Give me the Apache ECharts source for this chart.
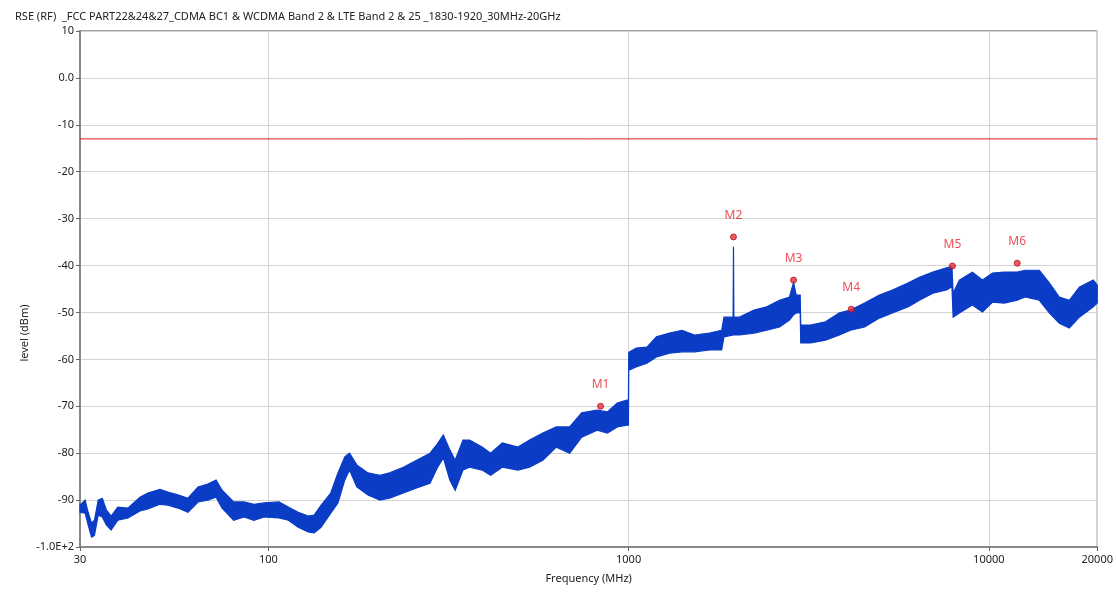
<!DOCTYPE html>
<html>
<head>
<meta charset="utf-8">
<script src="https://cdn.jsdelivr.net/npm/echarts@6/dist/echarts.min.js"></script>
<style>
html,body{margin:0;padding:0;background:#fff;}
#chart{width:1116px;height:592px;}
</style>
</head>
<body>
<div id="chart"></div>
<script>
// Frequency points (MHz) where the trace envelope was read
var freqs = [30,31,31.6,32.3,32.9,33.7,34.6,35.5,36.6,38.2,40.8,44,46.3,50,52.6,56.1,59.8,63.8,67.9,71.6,74.4,80.1,85.6,91.2,97.3,107,113.6,121,129,134,140,149,156,163,168,176,189,204,217,237,258,281,294,306,319,330,347,362,392,414,446,493,531,578,630,686,741,818,873,930,990,999,1001,1050,1124,1195,1300,1407,1526,1678,1813,1840,1950,1955,1960,2033,2230,2419,2624,2797,2870,2920,2995,3005,3200,3520,3849,4130,4520,4969,5400,5980,6416,6990,7630,7900,7960,8284,9000,9600,10240,11040,11990,12620,13810,14720,15690,16730,17830,19500,20000];
// Upper edge of the trace (dBm)
var upperLevel = [-91.1,-90.0,-92.6,-94.9,-94.3,-90.0,-89.6,-92.1,-93.4,-91.5,-91.7,-89.4,-88.5,-87.7,-88.3,-88.9,-89.6,-87.2,-86.6,-85.7,-87.9,-90.4,-90.4,-90.9,-90.6,-90.4,-91.5,-92.6,-93.4,-93.2,-91.1,-88.5,-84.2,-80.8,-80.0,-82.5,-84.2,-84.7,-84.2,-83.0,-81.5,-80.0,-78.1,-76.1,-79.3,-81.5,-77.2,-77.2,-78.7,-80.0,-77.8,-78.7,-77.2,-75.7,-74.4,-74.4,-71.4,-70.8,-71.2,-69.3,-68.7,-68.7,-58.5,-57.6,-57.4,-55.2,-54.4,-53.8,-54.8,-54.4,-53.8,-51.0,-51.0,-36.0,-51.0,-51.0,-49.5,-48.8,-47.4,-46.7,-43.6,-46.3,-46.3,-52.7,-52.7,-52.0,-50.1,-49.5,-48.0,-46.3,-45.2,-43.7,-42.5,-41.4,-40.5,-40.2,-45.9,-43.1,-41.4,-43.1,-41.6,-41.4,-41.4,-41.0,-41.0,-43.7,-46.7,-47.4,-44.6,-43.1,-44.2];
// Lower edge of the trace (dBm)
var lowerLevel = [-92.6,-92.8,-95.3,-97.9,-97.5,-93.2,-93.6,-95.3,-96.4,-94.3,-93.8,-92.3,-91.9,-90.9,-91.1,-91.7,-92.6,-90.4,-90.0,-89.4,-91.7,-94.3,-93.6,-94.3,-93.6,-93.8,-94.3,-95.8,-96.8,-97.0,-95.8,-92.8,-90.6,-85.7,-83.6,-87.2,-88.9,-90.0,-89.6,-88.5,-87.4,-86.4,-83.2,-81.0,-85.7,-87.9,-83.6,-83.0,-83.6,-84.7,-83.0,-83.6,-83.0,-81.5,-78.7,-80.0,-76.6,-75.1,-75.7,-74.4,-74.0,-74.0,-62.3,-61.6,-60.8,-59.5,-58.7,-58.4,-58.4,-58.0,-58.0,-55.2,-54.8,-53.0,-54.8,-54.8,-54.4,-53.8,-53.1,-51.6,-50.5,-50.1,-50.1,-56.5,-56.5,-55.9,-54.8,-53.8,-53.1,-51.2,-50.1,-48.8,-47.4,-45.9,-45.2,-44.5,-51.0,-50.1,-48.4,-49.9,-47.8,-48.0,-47.4,-46.7,-47.4,-50.1,-52.3,-53.3,-51.0,-48.8,-48.0];
// Markers
var markerNames = ['M1','M2','M3','M4','M5','M6'];
var markerFreqs = [836,1955,2870,4150,7925,11990];
var markerLevels = [-70.0,-33.9,-43.1,-49.3,-40.1,-39.5];
// Limit line
var limitLevel = -13;
var limitFreqs = [30,20000];
// Axes
var yMin = -100, yMax = 10, yStep = 10;
var xMin = 30, xMax = 20000;

var traceColor = '#0b3cc6';
var markerData = markerFreqs.map(function(f,i){return {value:[f, markerLevels[i]], name: markerNames[i]};});

var chart = echarts.init(document.getElementById('chart'), null, {renderer:'canvas'});
var font = 'Noto Sans';
chart.setOption({
  animation:false,
  backgroundColor:'#fff',
  title:{
    text:'RSE (RF)  _FCC PART22&24&27_CDMA BC1 & WCDMA Band 2 & LTE Band 2 & 25 _1830-1920_30MHz-20GHz',
    left:10, top:6,
    textStyle:{fontSize:11, fontWeight:'normal', color:'#222', fontFamily:font}
  },
  grid:{left:80, right:18, top:31, bottom:45, show:true, borderColor:'#444', borderWidth:1, backgroundColor:'#fff'},
  xAxis:{
    type:'log', logBase:10, min:xMin, max:xMax,
    name:'Frequency (MHz)', nameLocation:'middle', nameGap:26,
    nameTextStyle:{fontSize:11, color:'#222', fontFamily:font},
    axisLine:{show:true, onZero:false, lineStyle:{color:'#888', width:2}},
    axisTick:{show:true, length:4, lineStyle:{color:'#666'}},
    minorTick:{show:false},
    axisLabel:{fontSize:11, color:'#222', fontFamily:font, margin:7, showMinLabel:true, showMaxLabel:true,
      formatter:function(v){return String(Math.round(v));}},
    splitLine:{show:true, lineStyle:{color:'#d4d4d4', width:1}}
  },
  yAxis:{
    type:'value', min:yMin, max:yMax, interval:yStep,
    axisLine:{show:true, onZero:false, lineStyle:{color:'#888', width:2}},
    axisTick:{show:true, length:4, lineStyle:{color:'#666'}},
    axisLabel:{fontSize:11, color:'#222', fontFamily:font, margin:6,
      formatter:function(v){ if(v===0) return '0.0'; if(v===-100) return '-1.0E+2'; return String(v);}},
    splitLine:{show:true, lineStyle:{color:'#d4d4d4', width:1}}
  },
  graphic:[{
    type:'text', x:25, y:333, rotation:Math.PI/2,
    style:{text:'level (dBm)', fontSize:11, fill:'#222', fontFamily:font, align:'center', verticalAlign:'middle'}
  }],
  series:[
    {type:'line', name:'limit', data:limitFreqs.map(function(f){return [f, limitLevel];}), symbol:'none',
      lineStyle:{color:'#e01818', width:1}, silent:true, z:3},
    {type:'custom', name:'trace', coordinateSystem:'cartesian2d', data:[[1000,-60]], z:4, silent:true,
      renderItem:function(params, api){
        var pts = [];
        for (var i=0;i<freqs.length;i++) pts.push(api.coord([freqs[i], upperLevel[i]]));
        for (var j=freqs.length-1;j>=0;j--) pts.push(api.coord([freqs[j], lowerLevel[j]]));
        return {type:'polygon', shape:{points:pts}, style:{fill:traceColor, stroke:traceColor, lineWidth:1.2}};
      }},
    {type:'scatter', name:'markers', data:markerData, symbol:'circle', symbolSize:6,
      itemStyle:{color:'#e8303a', borderColor:'#b01020', borderWidth:1}, z:6,
      label:{show:true, position:'top', distance:12, formatter:'{b}', color:'#e8202a', fontSize:12, fontFamily:font}}
  ]
});
</script>
</body>
</html>
